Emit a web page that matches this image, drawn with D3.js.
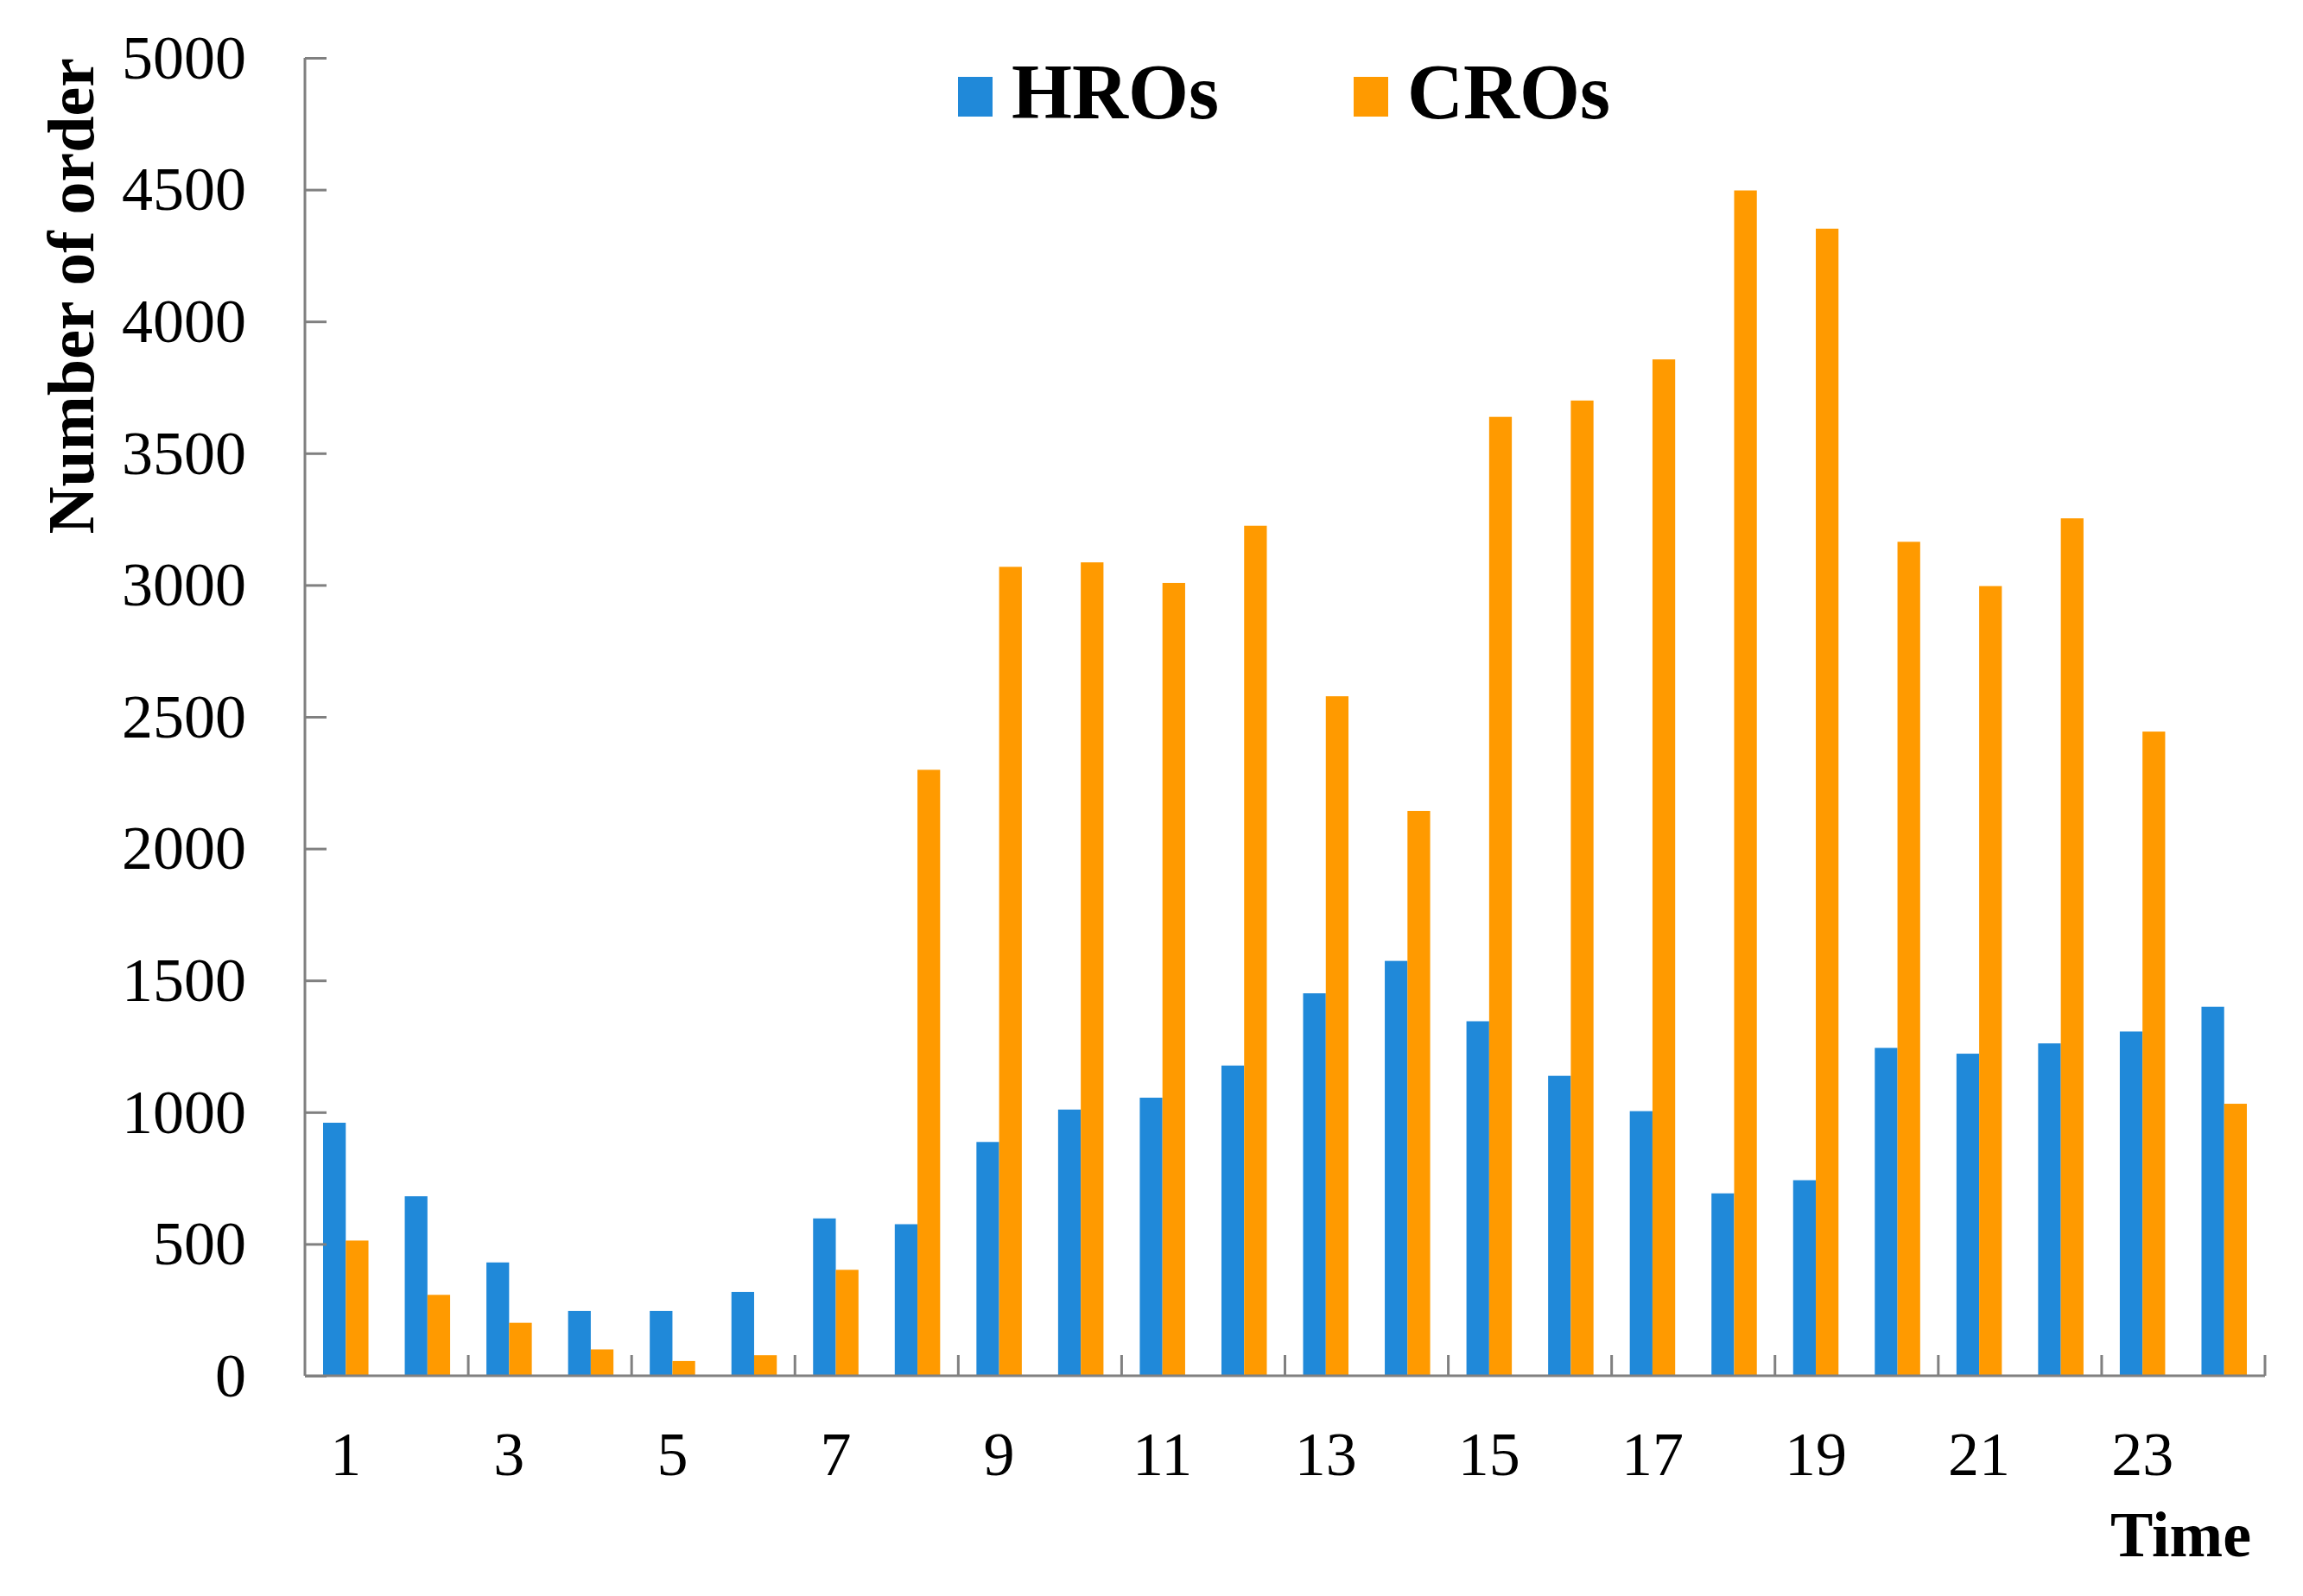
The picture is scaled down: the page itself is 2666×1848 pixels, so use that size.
<!DOCTYPE html>
<html>
<head>
<meta charset="utf-8">
<script src="https://cdn.jsdelivr.net/npm/d3@7"></script>
<style>
  body { margin: 0; background: #fff; }
  text { font-family: "Liberation Serif", "Times New Roman", serif; fill: #000; }
</style>
</head>
<body>
<script>
// hours of the day
const hours = d3.range(1, 25).map(String);
const hros = [960, 681, 430, 246, 246, 318, 597, 575, 887, 1010, 1055, 1177,
              1451, 1574, 1345, 1138, 1004, 692, 742, 1244, 1222, 1261, 1306, 1400];
const cros = [513, 307, 201, 100, 56, 78, 402, 2299, 3069, 3086, 3008, 3225,
              2578, 2143, 3638, 3700, 3856, 4497, 4352, 3164, 2996, 3253, 2444, 1032];
const seriesNames = ["HROs", "CROs"];
const colors = ["#2089d9", "#ff9a00"];
const yTicks = [0, 500, 1000, 1500, 2000, 2500, 3000, 3500, 4000, 4500, 5000];
const xLabels = ["1", "3", "5", "7", "9", "11", "13", "15", "17", "19", "21", "23"];

const w = 2666, h = 1848;
const padL = 353, padR = 2622, padT = 67, padB = 1593;

const svg = d3.select("body").append("svg")
  .attr("width", w)
  .attr("height", h);

const xScale = d3.scaleBand().domain(hours).range([padL, padR]).padding(0);
const xSub = d3.scaleBand().domain(seriesNames).range([0, xScale.bandwidth()])
  .paddingInner(0).paddingOuter(0.8);
const yScale = d3.scaleLinear().domain([0, 5000]).range([padB, padT]);

// bars
const rows = hours.map((hr, i) => ({ hr: hr, vals: [hros[i], cros[i]] }));
const groups = svg.selectAll("g.grp")
  .data(rows)
  .enter()
  .append("g")
  .attr("class", "grp")
  .attr("transform", d => "translate(" + xScale(d.hr) + ",0)");

groups.selectAll("rect")
  .data(d => d.vals.map((v, k) => ({ name: seriesNames[k], v: v, k: k })))
  .enter()
  .append("rect")
  .attr("x", d => xSub(d.name))
  .attr("width", xSub.bandwidth())
  .attr("y", d => yScale(d.v))
  .attr("height", d => padB - yScale(d.v))
  .attr("fill", d => colors[d.k]);

// y axis, ticks point inward
const yAxis = d3.axisRight(yScale).tickValues(yTicks).tickSize(25).tickFormat("");
const gy = svg.append("g")
  .attr("transform", "translate(" + padL + ",0)")
  .call(yAxis);
gy.select(".domain").attr("d", "M0," + padT + "V" + padB);
gy.selectAll("line, path").attr("stroke", "#808080").attr("stroke-width", 3);

svg.selectAll("text.ylab")
  .data(yTicks)
  .enter()
  .append("text")
  .attr("class", "ylab")
  .attr("x", padL - 68)
  .attr("y", d => yScale(d))
  .attr("dy", "0.33em")
  .attr("text-anchor", "end")
  .attr("font-size", 72)
  .text(d => d);

// x axis line and ticks between every second hour
const tickPos = hours.filter((d, i) => i % 2 === 0 && i > 0).map(d => xScale(d)).concat([padR]);
svg.append("line")
  .attr("x1", padL).attr("x2", padR)
  .attr("y1", padB).attr("y2", padB)
  .attr("stroke", "#808080").attr("stroke-width", 3);
svg.selectAll("line.xt")
  .data(tickPos)
  .enter()
  .append("line")
  .attr("class", "xt")
  .attr("x1", d => d).attr("x2", d => d)
  .attr("y1", padB).attr("y2", padB - 24)
  .attr("stroke", "#808080").attr("stroke-width", 3);

svg.selectAll("text.xlab")
  .data(xLabels)
  .enter()
  .append("text")
  .attr("class", "xlab")
  .attr("x", d => xScale(d) + xScale.bandwidth() / 2)
  .attr("y", 1708)
  .attr("text-anchor", "middle")
  .attr("font-size", 72)
  .text(d => d);

// axis titles
svg.append("text")
  .attr("x", 2606)
  .attr("y", 1802)
  .attr("text-anchor", "end")
  .attr("font-size", 74)
  .attr("font-weight", "bold")
  .text("Time");

svg.append("text")
  .attr("transform", "translate(108," + padT + ") rotate(-90)")
  .attr("text-anchor", "end")
  .attr("font-size", 76)
  .attr("font-weight", "bold")
  .text("Number of order");

// legend
const legendX = [1109, 1567];
const legend = svg.selectAll("g.leg")
  .data(seriesNames)
  .enter()
  .append("g")
  .attr("class", "leg")
  .attr("transform", (d, i) => "translate(" + legendX[i] + ",89)");
legend.append("rect")
  .attr("width", 40).attr("height", 46)
  .attr("fill", (d, i) => colors[i]);
legend.append("text")
  .attr("x", 62)
  .attr("y", 48)
  .attr("font-size", 90)
  .attr("font-weight", "bold")
  .text(d => d);
</script>
</body>
</html>
